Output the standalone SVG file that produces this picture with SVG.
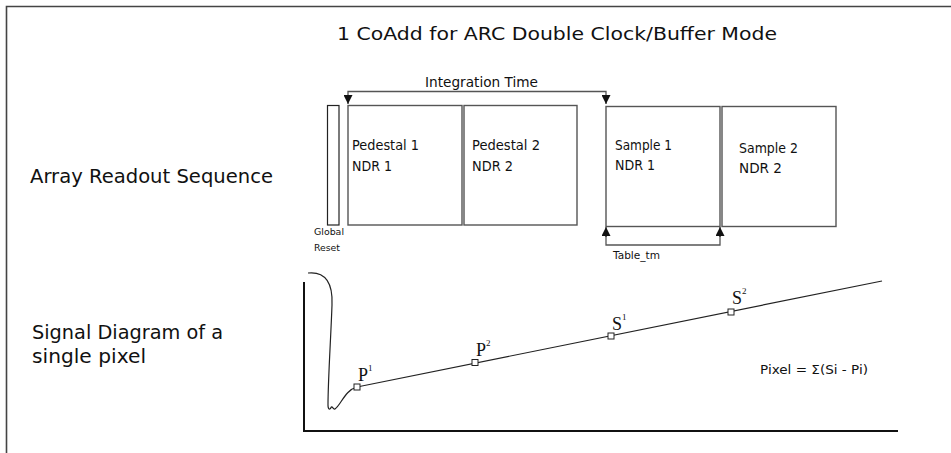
<svg xmlns="http://www.w3.org/2000/svg" width="951" height="453" viewBox="0 0 951 453">
<defs>
<style>
.lbl{font-family:"DejaVu Sans","Liberation Sans",sans-serif;fill:#111}
.ser{font-family:"Liberation Serif","DejaVu Serif",serif;fill:#111}
.box{fill:#fff;stroke:#555;stroke-width:1.4}
.ln{fill:none;stroke:#222;stroke-width:1.2}
.mk{fill:#fff;stroke:#222;stroke-width:1}
</style>
<marker id="ah" viewBox="0 0 10 10" refX="10" refY="5" markerWidth="9" markerHeight="9" markerUnits="userSpaceOnUse" orient="auto"><path d="M0,0 L10,5 L0,10 Z" fill="#111"/></marker>
</defs>
<rect x="0" y="0" width="951" height="453" fill="#fff"/>
<path d="M6.5,453 V6.5 H951" fill="none" stroke="#444" stroke-width="1.6"/>

<text class="lbl" x="337" y="40" font-size="18.5" textLength="440" lengthAdjust="spacingAndGlyphs">1 CoAdd for ARC Double Clock/Buffer Mode</text>
<text class="lbl" x="30" y="183" font-size="19" textLength="243" lengthAdjust="spacingAndGlyphs">Array Readout Sequence</text>
<text class="lbl" x="32" y="339" font-size="19" textLength="191" lengthAdjust="spacingAndGlyphs">Signal Diagram of a</text>
<text class="lbl" x="32" y="363" font-size="19" textLength="114" lengthAdjust="spacingAndGlyphs">single pixel</text>

<g id="global-reset">
<rect x="327.5" y="105.5" width="11.5" height="119.5" fill="#fff" stroke="#222" stroke-width="1.2"/>
<text class="lbl" x="314" y="235" font-size="9.5" textLength="30" lengthAdjust="spacingAndGlyphs">Global</text>
<text class="lbl" x="314" y="251" font-size="9.5" textLength="26" lengthAdjust="spacingAndGlyphs">Reset</text>
</g>
<g id="pedestal1">
<rect class="box" x="348" y="105.5" width="114" height="119.5"/>
<text class="lbl" x="352" y="150" font-size="14" textLength="67" lengthAdjust="spacingAndGlyphs">Pedestal 1</text>
<text class="lbl" x="352" y="171" font-size="14" textLength="40" lengthAdjust="spacingAndGlyphs">NDR 1</text>
</g>
<g id="pedestal2">
<rect class="box" x="464" y="105.5" width="113" height="119.5"/>
<text class="lbl" x="472" y="150" font-size="14" textLength="68" lengthAdjust="spacingAndGlyphs">Pedestal 2</text>
<text class="lbl" x="472" y="171" font-size="14" textLength="41" lengthAdjust="spacingAndGlyphs">NDR 2</text>
</g>
<g id="sample1">
<rect class="box" x="606" y="106.5" width="114" height="120"/>
<text class="lbl" x="615" y="150" font-size="14" textLength="57" lengthAdjust="spacingAndGlyphs">Sample 1</text>
<text class="lbl" x="615" y="170" font-size="14" textLength="40" lengthAdjust="spacingAndGlyphs">NDR 1</text>
</g>
<g id="sample2">
<rect class="box" x="722" y="106.5" width="114" height="120"/>
<text class="lbl" x="739" y="153" font-size="14" textLength="59" lengthAdjust="spacingAndGlyphs">Sample 2</text>
<text class="lbl" x="739" y="173" font-size="14" textLength="43" lengthAdjust="spacingAndGlyphs">NDR 2</text>
</g>

<g id="connectors">
<path d="M348,97 V91.5 H606 V97" fill="none" stroke="#555" stroke-width="1.3"/>
<line x1="348" y1="96" x2="348" y2="104" stroke="#111" stroke-width="1" marker-end="url(#ah)"/>
<line x1="606" y1="96" x2="606" y2="104" stroke="#111" stroke-width="1" marker-end="url(#ah)"/>
<text class="lbl" x="425" y="87" font-size="13.5" textLength="113" lengthAdjust="spacingAndGlyphs">Integration Time</text>

<path d="M606,236 V245 H720 V236" fill="none" stroke="#555" stroke-width="1.3"/>
<line x1="606" y1="237" x2="606" y2="227" stroke="#111" stroke-width="1" marker-end="url(#ah)"/>
<line x1="720" y1="237" x2="720" y2="227" stroke="#111" stroke-width="1" marker-end="url(#ah)"/>
<text class="lbl" x="613" y="259" font-size="10" textLength="47" lengthAdjust="spacingAndGlyphs">Table_tm</text>
</g>

<g id="signal-diagram">
<line x1="304" y1="282" x2="304" y2="432" stroke="#111" stroke-width="2"/>
<line x1="303" y1="431" x2="898" y2="431" stroke="#111" stroke-width="2"/>
<path class="ln" d="M308,273 C326,271 333,284 332,305 C331,335 328,380 328,405 C328,410 330,410 331,407.5 C332,405 333,410 335,409 C341,405 345,390 357,387"/>
<line class="ln" x1="357" y1="387" x2="882" y2="281"/>
<rect class="mk" x="354" y="384" width="6" height="6"/>
<rect class="mk" x="472" y="359.5" width="6" height="6"/>
<rect class="mk" x="608" y="333" width="6" height="6"/>
<rect class="mk" x="728" y="309" width="6" height="6"/>
<text class="ser" x="358" y="381" font-size="18">P<tspan font-size="9" dy="-10">1</tspan></text>
<text class="ser" x="476" y="356" font-size="18">P<tspan font-size="9" dy="-10">2</tspan></text>
<text class="ser" x="612" y="330" font-size="18">S<tspan font-size="9" dy="-10">1</tspan></text>
<text class="ser" x="732" y="304" font-size="18">S<tspan font-size="9" dy="-10">2</tspan></text>
<text class="lbl" x="760" y="374" font-size="13" textLength="108" lengthAdjust="spacingAndGlyphs">Pixel = Σ(Si - Pi)</text>
</g>
</svg>
